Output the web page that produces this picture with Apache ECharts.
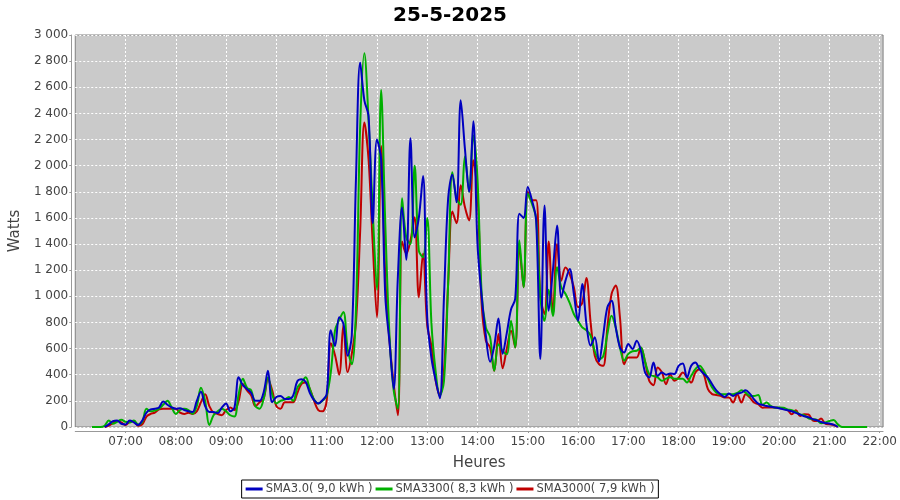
<!DOCTYPE html>
<html><head><meta charset="utf-8">
<script src="https://cdn.jsdelivr.net/npm/echarts@6/dist/echarts.min.js"></script>
<style>html,body{margin:0;padding:0;background:#fff}#c{width:900px;height:500px}</style>
</head><body><div id="c"></div>
<script>
const times = [
"06:20","06:25","06:30","06:35","06:40","06:45","06:50","06:55",
"07:00","07:05","07:10","07:15","07:20","07:25","07:30","07:35","07:40","07:45","07:50","07:55",
"08:00","08:05","08:10","08:15","08:20","08:25","08:30","08:35","08:40","08:45","08:50","08:55",
"09:00","09:05","09:10","09:15","09:20","09:25","09:30","09:35","09:40","09:45","09:50","09:55",
"10:00","10:05","10:10","10:15","10:20","10:25","10:30","10:35","10:40","10:45","10:50","10:55",
"11:00","11:05","11:10","11:15","11:20","11:25","11:30","11:35","11:40","11:45","11:50","11:55",
"12:00","12:05","12:10","12:15","12:20","12:25","12:30","12:35","12:40","12:45","12:50","12:55",
"13:00","13:05","13:10","13:15","13:20","13:25","13:30","13:35","13:40","13:45","13:50","13:55",
"14:00","14:05","14:10","14:15","14:20","14:25","14:30","14:35","14:40","14:45","14:50","14:55",
"15:00","15:05","15:10","15:15","15:20","15:25","15:30","15:35","15:40","15:45","15:50","15:55",
"16:00","16:05","16:10","16:15","16:20","16:25","16:30","16:35","16:40","16:45","16:50","16:55",
"17:00","17:05","17:10","17:15","17:20","17:25","17:30","17:35","17:40","17:45","17:50","17:55",
"18:00","18:05","18:10","18:15","18:20","18:25","18:30","18:35","18:40","18:45","18:50","18:55",
"19:00","19:05","19:10","19:15","19:20","19:25","19:30","19:35","19:40","19:45","19:50","19:55",
"20:00","20:05","20:10","20:15","20:20","20:25","20:30","20:35","20:40","20:45","20:50","20:55",
"21:00","21:05","21:10","21:15","21:20","21:25","21:30","21:35","21:40","21:45"
];
const seriesNames = ["SMA3.0( 9,0 kWh )","SMA3300( 8,3 kWh )","SMA3000( 7,9 kWh )"];
const sma30 = [
null,null,null,0,20,45,50,25,
20,50,35,15,50,110,135,140,150,195,170,150,
140,143,130,120,115,200,270,160,115,115,105,150,
180,120,150,380,320,290,260,200,200,270,430,190,
230,238,215,215,240,350,365,345,260,205,180,205,
250,740,620,840,790,545,700,1900,2790,2500,2380,1560,
2200,2050,1000,650,290,1150,1680,1280,2210,1450,1600,1920,
840,530,360,220,990,1750,1930,1720,2500,2130,1800,2340,
1400,1000,700,500,620,830,560,720,900,980,1632,1600,
1837,1735,1580,520,1696,890,1200,1543,990,1120,1210,1018,
813,1095,790,622,686,501,700,916,966,762,609,570,
635,596,660,583,417,378,494,391,417,400,410,405,
468,486,378,468,494,442,407,378,327,281,251,230,
256,238,255,263,281,255,212,179,170,160,155,150,
143,135,128,120,108,95,82,75,60,52,38,30,
26,18,0,null,null,null,null,null,null,null
];
const sma3300 = [
0,0,0,10,50,25,40,55,
40,35,50,20,40,140,120,125,140,170,200,150,
100,130,140,130,100,160,300,200,15,90,120,140,
120,90,80,250,370,300,280,160,140,220,380,250,
180,200,210,230,200,300,340,380,290,210,180,200,
240,420,740,820,880,600,480,900,2300,2860,2350,1650,
1050,2580,1550,700,280,140,1750,1450,1400,2000,1350,1300,
1600,800,430,240,350,1100,1950,1750,1700,2070,1800,2230,
1900,1020,760,690,430,634,583,557,813,609,1427,1069,
1786,1709,1594,1000,813,1050,850,1223,1069,1020,950,865,
813,762,740,700,580,520,540,711,852,760,609,507,
560,580,583,609,500,404,390,380,353,370,380,370,
370,370,340,392,442,468,430,366,302,263,251,251,
251,251,260,281,263,238,238,245,169,187,161,148,
150,148,135,128,115,97,90,66,60,54,28,35,
46,54,20,0,0,0,0,0,0,0
];
const sma3000 = [
null,null,null,0,10,30,45,35,
15,40,45,10,20,80,100,110,135,140,140,140,
140,110,100,110,100,120,190,250,160,110,100,90,
130,150,130,200,330,280,240,160,190,220,370,280,
160,140,190,190,190,260,330,340,290,200,130,120,
200,640,550,400,780,420,560,800,1500,2330,2050,1400,
840,2150,1150,660,330,90,1420,1325,1427,1606,992,1325,
780,620,360,245,430,1100,1650,1560,1850,1683,1581,2041,
1786,940,660,609,430,711,450,600,737,609,1376,1069,
1800,1735,1735,1000,865,1420,865,1400,1120,1220,1170,1069,
916,950,1140,800,545,481,468,760,1018,1082,840,481,
532,532,532,609,500,353,320,455,420,328,404,353,
378,417,380,340,417,442,404,289,251,245,238,225,
225,187,251,187,251,225,187,174,148,150,150,150,
145,140,130,97,128,84,97,95,51,45,66,25,
20,15,0,null,null,null,null,null,null,null
];
const hourTicks = ["07:00","08:00","09:00","10:00","11:00","12:00","13:00","14:00","15:00","16:00","17:00","18:00","19:00","20:00","21:00","22:00"];

function toMin(s){const p=s.split(':');return (+p[0])*60+(+p[1]);}
function pad(n){return (n<10?'0':'')+n;}
function fmtT(v){return pad(Math.floor(v/60))+':'+pad(v%60);}
function fmtW(v){return String(v).replace(/\B(?=(\d{3})+(?!\d))/g,' ');}
const tickMins = hourTicks.map(toMin);
function pairs(arr){return times.map((t,i)=>[toMin(t),arr[i]]);}

const colors = ['#0000c0','#00b000','#c00000'];
const dataSets = [sma30, sma3300, sma3000];
const zs = [4,3,2];

const chart = echarts.init(document.getElementById('c'), null, {renderer:'canvas'});
chart.setOption({
  animation:false,
  textStyle:{fontFamily:'DejaVu Sans'},
  title:{text:'25-5-2025', left:'center', top:1,
    textStyle:{fontSize:20, fontWeight:'bold', color:'#000', fontFamily:'DejaVu Sans'}},
  grid:{left:74, right:12, top:35, bottom:73, show:true, backgroundColor:'#cacaca',
    borderColor:'#808080', borderWidth:1},
  xAxis:{type:'value', min:360, max:1324, interval:60, offset:4,
    name:'Heures', nameLocation:'middle', nameGap:25,
    nameTextStyle:{fontSize:15, color:'#444', fontFamily:'DejaVu Sans'},
    axisLine:{show:true, onZero:false, lineStyle:{color:'#999'}},
    axisTick:{show:true, length:2, customValues:tickMins, lineStyle:{color:'#999'}},
    axisLabel:{customValues:tickMins, formatter:v=>fmtT(v), color:'#444', fontSize:12, margin:5},
    splitLine:{show:true, lineStyle:{color:'#ffffff', type:[2,2], width:1}}},
  yAxis:{type:'value', min:0, max:3000, interval:200, offset:4,
    name:'Watts', nameLocation:'middle', nameGap:46, nameRotate:90,
    nameTextStyle:{fontSize:15, color:'#444', fontFamily:'DejaVu Sans'},
    axisLine:{show:true, lineStyle:{color:'#999'}},
    axisTick:{show:true, length:2, lineStyle:{color:'#999'}},
    axisLabel:{formatter:v=>fmtW(v), color:'#444', fontSize:12, margin:3},
    splitLine:{show:true, lineStyle:{color:'#ffffff', type:[2,2], width:1}}},
  legend:{bottom:2, left:'center', orient:'horizontal',
    borderColor:'#000', borderWidth:1, padding:[3,4,3,4], itemGap:3,
    itemWidth:17, itemHeight:3, icon:'rect',
    textStyle:{fontSize:11.5, color:'#444', fontFamily:'DejaVu Sans', padding:[0,0,0,-2]},
    data:seriesNames},
  series: seriesNames.map((n,i)=>({
    name:n, type:'line', data:pairs(dataSets[i]), smooth:0.35,
    showSymbol:false, connectNulls:false, z:zs[i],
    lineStyle:{width:2, color:colors[i]}, itemStyle:{color:colors[i]}
  }))
});
</script></body></html>
